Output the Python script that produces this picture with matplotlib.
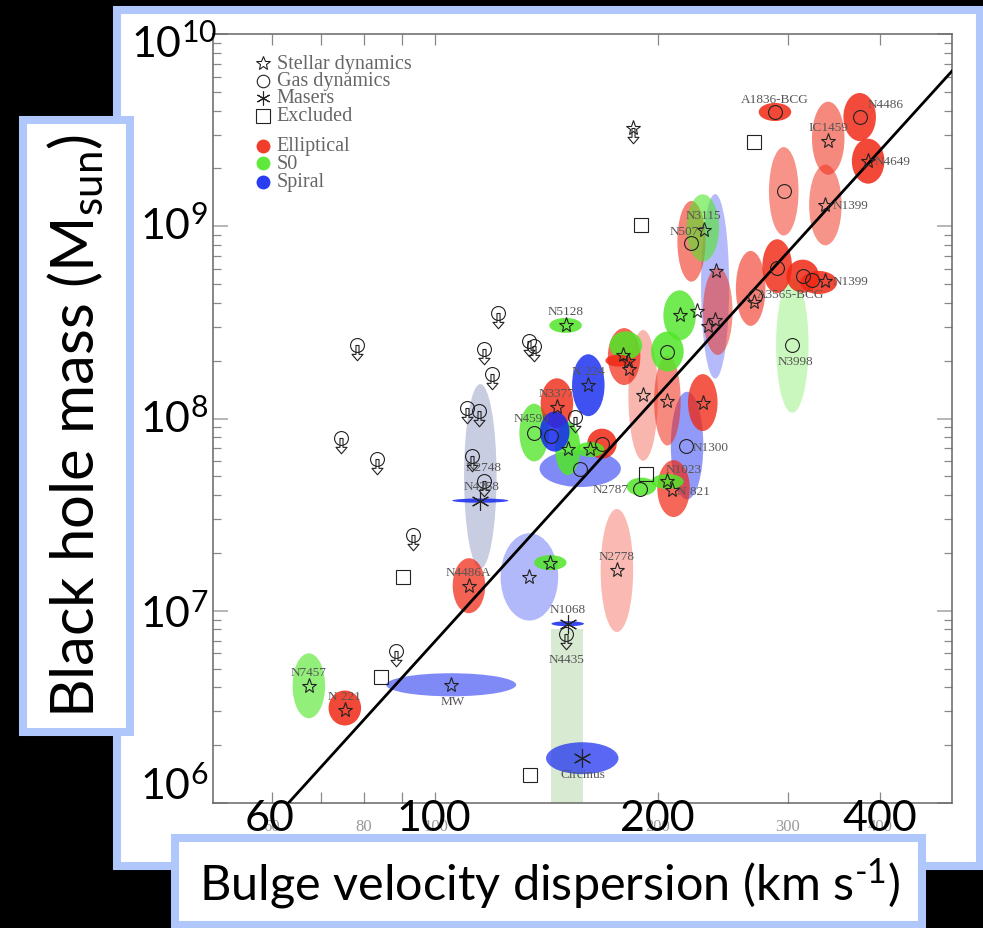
import numpy as np
import matplotlib.pyplot as plt
from matplotlib.patches import Ellipse, Rectangle
from matplotlib.path import Path
from matplotlib.ticker import LogLocator, NullFormatter, NullLocator

plt.rcParams['font.family'] = ['Lato', 'DejaVu Sans']
plt.rcParams['mathtext.default'] = 'regular'

W, H = 983, 929

# ---- galaxies with error ellipses (sigma km/s, M_bh Msun, half size in dex, type)
ell_sigma = [288, 375, 340, 385, 296, 337, 230, 222, 239, 314, 330, 290, 267,
             150, 161, 146, 136, 145, 151, 157, 168, 162, 115, 115,
             180, 177, 181, 206, 214, 191, 206, 230, 219, 210, 206, 190, 241,
             111, 134, 143, 176, 151, 158, 67.4, 75.4, 105, 304]
ell_mass = [3.93e9, 3.7e9, 2.87e9, 2.18e9, 1.52e9, 1.29e9, 9.8e8, 8.35e8, 4.87e8, 5.5e8, 5.1e8, 6.2e8, 4.75e8,
            3.05e8, 1.49e8, 1.2e8, 8.45e7, 8.55e7, 6.98e7, 5.49e7, 7.4e7, 6.9e7, 3.74e7, 5.0e7,
            2.1e8, 2.0e8, 2.4e8, 2.23e8, 3.44e8, 1.32e8, 1.24e8, 1.21e8, 7.23e7, 4.32e7, 4.7e7, 4.42e7, 3.61e8,
            1.35e7, 1.5e7, 1.78e7, 1.62e7, 8.56e6, 1.71e6, 4.07e6, 3.12e6, 4.12e6, 2.4e8]
ell_dsig = [.022, .022, .022, .022, .020, .022, .022, .019, .019, .022, .025, .020, .020,
            .022, .022, .022, .020, .020, .017, .055, .020, .019, .038, .022,
            .022, .018, .022, .022, .022, .020, .018, .020, .022, .022, .022, .020, .020,
            .022, .039, .022, .022, .022, .049, .022, .022, .088, .022]
ell_dm = [.047, .125, .19, .117, .23, .21, .175, .21, .48, .086, .06, .14, .195,
          .039, .161, .13, .15, .104, .138, .096, .078, .039, .011, .48,
          .148, .031, .073, .104, .13, .34, .234, .148, .28, .148, .039, .047, .227,
          .143, .227, .039, .32, .013, .083, .169, .091, .06, .35]
ell_type = ['E', 'E', 'E', 'E', 'E', 'E', 'S0', 'E', 'S', 'E', 'E', 'E', 'E',
            'S0', 'S', 'E', 'S0', 'S', 'S0', 'S', 'E', 'S0', 'S', 'U',
            'E', 'E', 'S0', 'S0', 'S0', 'E', 'E', 'E', 'S', 'E', 'S0', 'S0', 'E',
            'E', 'S', 'S0', 'E', 'S', 'S', 'S0', 'E', 'S', 'S0']

# band (sigma range, mass range) below N1068
band_sigma = [143.4, 158.4]
band_mass = [1e5, 8.06e6]

# ---- measurement markers
star_sigma = [340, 385, 337, 231, 240, 337, 270, 150, 161, 146, 151, 162, 179.5, 182, 183,
              214, 226, 239, 233.5, 191, 206, 230, 206, 209, 111, 134, 143, 176, 67.4, 75.4, 105]
star_mass = [2.77e9, 2.18e9, 1.29e9, 9.53e8, 5.83e8, 5.17e8, 4.02e8, 3.05e8, 1.49e8, 1.15e8, 6.98e7, 6.9e7,
             2.13e8, 2.0e8, 1.82e8, 3.44e8, 3.61e8, 3.24e8, 3.01e8, 1.32e8, 1.24e8, 1.21e8, 4.75e7, 4.27e7,
             1.35e7, 1.5e7, 1.78e7, 1.62e7, 4.07e6, 3.05e6, 4.12e6]
gas_sigma = [288, 375, 296, 222, 314, 323, 290, 271, 136, 143.4, 157, 168, 206, 218, 189, 304]
gas_mass = [3.93e9, 3.7e9, 1.52e9, 8.15e8, 5.5e8, 5.23e8, 6.04e8, 4.32e8, 8.45e7, 8.15e7, 5.49e7, 7.41e7,
            2.23e8, 7.2e7, 4.32e7, 2.4e8]
maser_sigma = [115, 151, 158]
maser_mass = [3.74e7, 8.56e6, 1.71e6]
excl_sigma = [270, 190, 193, 90.5, 84.5, 134.3]
excl_mass = [2.74e9, 1.02e9, 5.17e7, 1.5e7, 4.53e6, 1.4e6]
lim_sigma = [78.2, 74.4, 83.3, 93.1, 88.3, 121.6, 116.4, 119.4, 133.9, 136.0, 110.4, 114.7,
             112.2, 116.4, 154.5, 150.2]
lim_mass = [2.4e8, 7.87e7, 6.19e7, 2.49e7, 6.19e6, 3.52e8, 2.29e8, 1.71e8, 2.52e8, 2.37e8,
            1.14e8, 1.09e8, 6.42e7, 4.75e7, 1.02e8, 7.59e6]
starlim_sigma = [185]
starlim_mass = [3.24e9]

# ---- labels
lab_text = ['A1836-BCG', 'N4486', 'IC1459', 'N4649', 'N1399', 'N3115', 'N5077', 'N1399', 'A3565-BCG',
            'N3998', 'N5128', 'N 224', 'N3377', 'N4596', 'N1300', 'N1023', 'N 821', 'N2787', 'N2748',
            'N4258', 'N4486A', 'N2778', 'N1068', 'N4435', 'Circinus', 'N7457', 'N 221', 'MW']
lab_sigma = [288, 406, 340, 416, 364, 230.7, 219.5, 364, 302, 307, 150.2, 160.9, 145.7, 134.7,
             235.7, 216.8, 223.6, 172.8, 116.1, 115.4, 110.8, 176, 151.2, 150.2, 158.4, 67.4, 75.4, 105.4]
lab_mass = [4.59e9, 4.32e9, 3.28e9, 2.18e9, 1.29e9, 1.14e9, 9.42e8, 5.17e8, 4.42e8, 2.0e8, 3.61e8,
            1.76e8, 1.35e8, 1.0e8, 7.15e7, 5.49e7, 4.22e7, 4.32e7, 5.62e7, 4.48e7, 1.6e7, 1.93e7,
            1.02e7, 5.62e6, 1.42e6, 4.81e6, 3.61e6, 3.4e6]

# M-sigma fit: log M = a + b log(sigma/200)
fit_a, fit_b = 8.12, 4.24

type_color = {'E': '#f02814', 'S0': '#50e628', 'S': '#1428f0', 'U': '#051c77'}

fig = plt.figure(figsize=(W / 100, H / 100), dpi=100, facecolor='black')


def fig_rect(x0, y0, x1, y1, **kw):
    return Rectangle((x0 / W, 1 - y1 / H), (x1 - x0) / W, (y1 - y0) / H,
                     transform=fig.transFigure, **kw)


blue_edge = '#afc7fb'
fig.add_artist(fig_rect(117, 11, 980, 867, facecolor='white', edgecolor=blue_edge, lw=5.8, zorder=-5))

ax = fig.add_axes([213 / W, 1 - 804 / H, 739 / W, 769 / H])
ax.set_xscale('log')
ax.set_yscale('log')
ax.set_xlim(50, 500)
ax.set_ylim(1e6, 1e10)
ax.set_facecolor('white')

logspace = ax.transLimits + ax.transAxes

# ellipses, big (faint) first
areas = np.array(ell_dsig) * np.array(ell_dm)
for i in np.argsort(-areas):
    a = float(np.clip(0.0023 / areas[i], 0.22, 0.85))
    if ell_type[i] == 'S':
        a = min(0.85, a * 1.25)
    e = Ellipse((np.log10(ell_sigma[i]), np.log10(ell_mass[i])), 2 * ell_dsig[i], 2 * ell_dm[i],
                transform=logspace, facecolor=type_color[ell_type[i]], alpha=a, lw=0, zorder=2)
    ax.add_patch(e)
band = Rectangle((np.log10(band_sigma[0]), np.log10(band_mass[0])),
                 np.log10(band_sigma[1]) - np.log10(band_sigma[0]),
                 np.log10(band_mass[1]) - np.log10(band_mass[0]),
                 transform=logspace, facecolor='#d8ebd2', lw=0, zorder=1.5)
ax.add_patch(band)

# fit line
sig = np.array([50, 500])
ax.plot(sig, 10 ** (fit_a + fit_b * np.log10(sig / 200)), color='black', lw=2, zorder=3)

mk = dict(ls='none', mfc='none', mec='#222222', mew=0.8, zorder=4)
arrow = Path([(-0.1, 0), (-0.1, -0.58), (-0.36, -0.58), (0, -1), (0.36, -0.58), (0.1, -0.58), (0.1, 0),
              (-0.1, 0)],
             [Path.MOVETO] + [Path.LINETO] * 6 + [Path.CLOSEPOLY])
ax.plot(star_sigma, star_mass, marker='*', ms=11, **mk)
ax.plot(gas_sigma, gas_mass, marker='o', ms=10, **mk)
ax.plot(maser_sigma, maser_mass, marker=(6, 2, 0), ms=13, **mk)
ax.plot(excl_sigma, excl_mass, marker='s', ms=10, **mk)
ax.plot(lim_sigma, lim_mass, marker='o', ms=10, **mk)
ax.plot(lim_sigma, lim_mass, marker=arrow, ms=22, **mk)
ax.plot(starlim_sigma, starlim_mass, marker='*', ms=11, **mk)
ax.plot(starlim_sigma, starlim_mass, marker=arrow, ms=22, **mk)

for t, s, m in zip(lab_text, lab_sigma, lab_mass):
    ax.text(s, m, t, ha='center', va='center', fontsize=9.5, color='#555555',
            family='Liberation Serif', zorder=3.5)

# legend, drawn by hand
leg_kind = [('*', 'Stellar dynamics'), ('o', 'Gas dynamics'), ((6, 2, 0), 'Masers'), ('s', 'Excluded')]
leg_y = [0.962, 0.9395, 0.917, 0.894]
for (m, t), y in zip(leg_kind, leg_y):
    ax.plot([0.068], [y], transform=ax.transAxes, marker=m, ms=10 if m != 'o' else 9, **mk)
    ax.text(0.086, y, t, transform=ax.transAxes, va='center', fontsize=14.5, color='#666666',
            family='Liberation Serif')
leg_col = [('E', 'Elliptical'), ('S0', 'S0'), ('S', 'Spiral')]
for (c, t), y in zip(leg_col, [0.855, 0.832, 0.808]):
    ax.plot([0.068], [y], transform=ax.transAxes, marker='o', ms=10, ls='none',
            mfc=type_color[c], mec='none', alpha=0.9)
    ax.text(0.086, y, t, transform=ax.transAxes, va='center', fontsize=14.5, color='#666666',
            family='Liberation Serif')

# axes styling
ax.set_xticks([60, 70, 80, 90, 100, 200, 300, 400])
ax.set_xticklabels(['60', '', '80', '', '100', '200', '300', '400'])
ax.xaxis.set_minor_locator(NullLocator())
ax.yaxis.set_major_locator(LogLocator(base=10))
ax.yaxis.set_minor_locator(LogLocator(base=10, subs=np.arange(2, 10)))
ax.yaxis.set_minor_formatter(NullFormatter())
ax.tick_params(axis='x', which='major', direction='in', length=8, width=0.9, color='#888888',
               top=True, pad=11, labelsize=12, labelcolor='#9a9a9a')
ax.tick_params(axis='y', which='major', direction='in', length=11, width=1.2, color='#aaaaaa',
               right=True, labelleft=False)
ax.tick_params(axis='y', which='minor', direction='in', length=5.5, width=0.9, color='#888888',
               right=True)
for lab in ax.get_xticklabels():
    lab.set_family('Liberation Serif')
for sp in ax.spines.values():
    sp.set_color('#666666')
    sp.set_linewidth(1.1)

# overlay: axis title boxes and big tick labels
fig.add_artist(fig_rect(23, 121, 129.5, 733, facecolor='white', edgecolor=blue_edge, lw=5.8, zorder=5))
fig.add_artist(fig_rect(175, 839, 922, 926, facecolor='white', edgecolor=blue_edge, lw=5.8, zorder=5))
fig.text(76 / W, 1 - 426 / H, r'Black hole mass (M$_{sun}$)', rotation=90, ha='center', va='center',
         fontsize=43, color='black', zorder=6)
fig.text(550 / W, 1 - 884 / H, 'Bulge velocity dispersion (km s$^{\u2010 1}$)', ha='center',
         va='center', fontsize=35, color='black', zorder=6)

for e, y in zip([10, 9, 8, 7, 6], [44, 226, 419, 614, 786]):
    fig.text((131 if e == 10 else 140) / W, 1 - y / H, r'10$^{%d}$' % e, ha='left', va='center',
             fontsize=31, color='black', zorder=6)
for v in [60, 100, 200, 400]:
    x = 434 + 741 * np.log10(v / 100)
    fig.text(x / W, 1 - 819 / H, str(v), ha='center', va='center', fontsize=31, color='black', zorder=6)

fig.savefig('out.png', dpi=100, facecolor='black')
